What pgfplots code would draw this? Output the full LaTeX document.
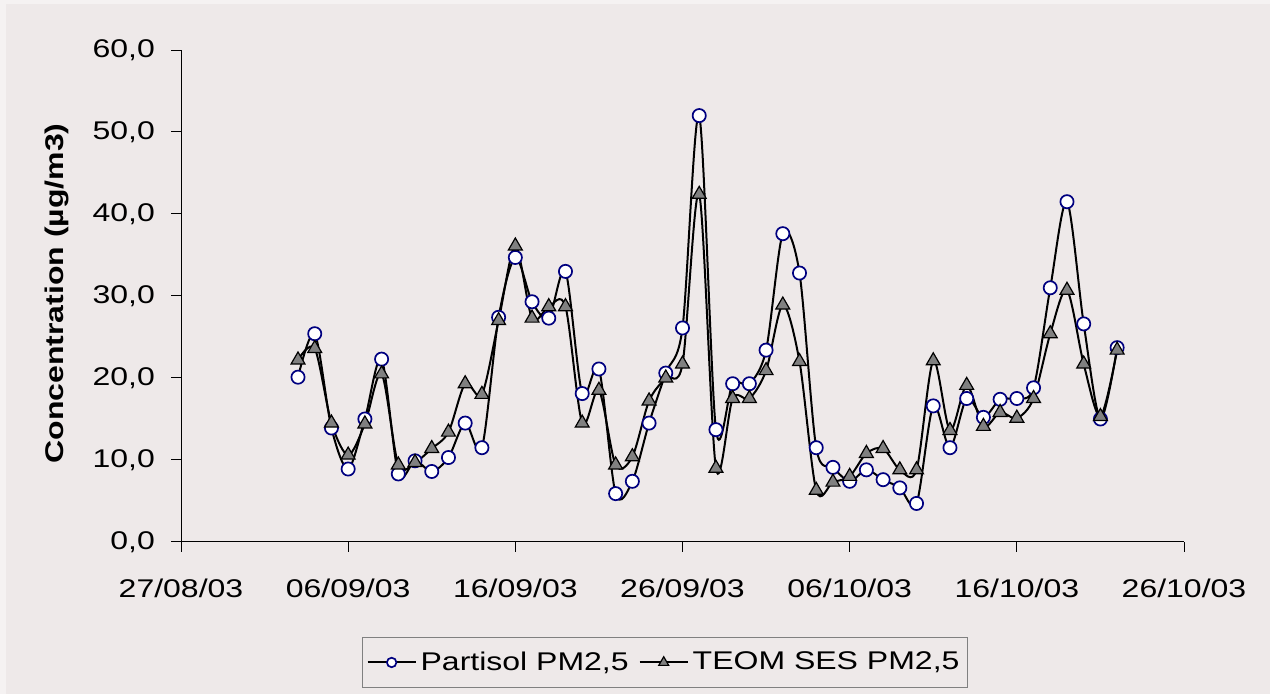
\documentclass[border=0pt]{standalone}
\usepackage{fontspec}
\setmainfont{Liberation Sans}[FakeStretch=1.25]
\usepackage{pgfplots}
\pgfplotsset{compat=1.18}

\definecolor{chartbg}{RGB}{238,233,233}
\definecolor{edgebg}{RGB}{245,242,242}
\definecolor{markblue}{RGB}{0,0,128}
\definecolor{markgray}{RGB}{128,128,128}
\definecolor{legframe}{RGB}{128,128,128}

% Daily PM2.5 concentrations; x = days since 27/08/03
\pgfplotstableread{
day  val
7    20.1
8    25.4
9    13.9
10   8.9
11   15.0
12   22.3
13   8.3
14   9.9
15   8.6
16   10.3
17   14.5
18   11.5
19   27.4
20   34.7
21   29.3
22   27.3
23   33.0
24   18.1
25   21.1
26   5.9
27   7.4
28   14.5
29   20.6
30   26.1
31   52.0
32   13.7
33   19.3
34   19.3
35   23.4
36   37.6
37   32.8
38   11.5
39   9.1
40   7.4
41   8.8
42   7.6
43   6.6
44   4.7
45   16.6
46   11.5
47   17.5
48   15.2
49   17.4
50   17.5
51   18.8
52   31.0
53   41.5
54   26.6
55   15.0
56   23.7
}\partisol

\pgfplotstableread{
day  val
7    22.2
8    23.6
9    14.5
10   10.6
11   14.4
12   20.5
13   9.4
14   9.7
15   11.4
16   13.4
17   19.3
18   18.0
19   27.0
20   36.1
21   27.3
22   28.7
23   28.7
24   14.5
25   18.5
26   9.4
27   10.4
28   17.2
29   20.0
30   21.7
31   42.4
32   9.0
33   17.5
34   17.5
35   20.9
36   28.9
37   22.0
38   6.3
39   7.3
40   8.0
41   10.8
42   11.4
43   8.8
44   8.8
45   22.1
46   13.6
47   19.1
48   14.1
49   15.8
50   15.1
51   17.5
52   25.4
53   30.7
54   21.7
55   15.3
56   23.4
}\teom

\begin{document}
\begin{tikzpicture}
\useasboundingbox (0pt,0pt) rectangle (635pt,347pt);
\fill[edgebg] (0pt,0pt) rectangle (635pt,347pt);
\fill[chartbg] (3pt,0pt) rectangle (635pt,345pt);
\begin{axis}[
  at={(90.5pt,76pt)}, anchor=origin,
  scale only axis, width=501.5pt, height=246pt,
  xmin=0, xmax=60, ymin=0, ymax=60,
  axis lines*=left,
  axis line style={black, line width=0.5pt},
  xtick={0,10,...,60},
  xticklabels={27/08/03,06/09/03,16/09/03,26/09/03,06/10/03,16/10/03,26/10/03},
  ytick={0,10,...,60},
  tick align=outside, major tick length=5pt,
  tick style={black, line width=0.5pt},
  ticklabel style={font=\fontsize{12.8}{15}\selectfont},
  x tick label style={yshift=-10pt},
  y tick label style={xshift=-4.5pt, /pgf/number format/.cd, fixed, fixed zerofill, precision=1, use comma, assume math mode=true},
  ylabel={Concentration (µg/m3)},
  ylabel style={font=\bfseries\fontsize{12.8}{15}\selectfont, at={(axis description cs:-0.1236,0.505)}, anchor=center},
  legend columns=2,
  legend style={at={(0.4826,-0.2449)}, anchor=center, draw=legframe, fill=none,
    font=\fontsize{12.8}{15}\selectfont, line width=0.5pt, inner xsep=2pt, inner ysep=5pt,
    /tikz/every even column/.append style={column sep=3pt}},
  legend image code/.code={\draw[mark repeat=2, mark phase=2, every mark/.append style={scale=0.72}]
    plot coordinates {(0pt,0pt) (12pt,0pt) (24pt,0pt)};},
  clip=false,
]
\addplot[black, line width=1pt, smooth, mark=*, mark size=3.3pt,
  mark options={fill=white, draw=markblue, line width=0.85pt}] table[x=day, y=val] {\partisol};
\addlegendentry{Partisol PM2,5}
\addplot[black, line width=1pt, smooth, mark=triangle*, mark size=4pt,
  mark options={fill=markgray, draw=black, line width=0.6pt}] table[x=day, y=val] {\teom};
\addlegendentry{TEOM SES PM2,5}
\end{axis}
\end{tikzpicture}
\end{document}
